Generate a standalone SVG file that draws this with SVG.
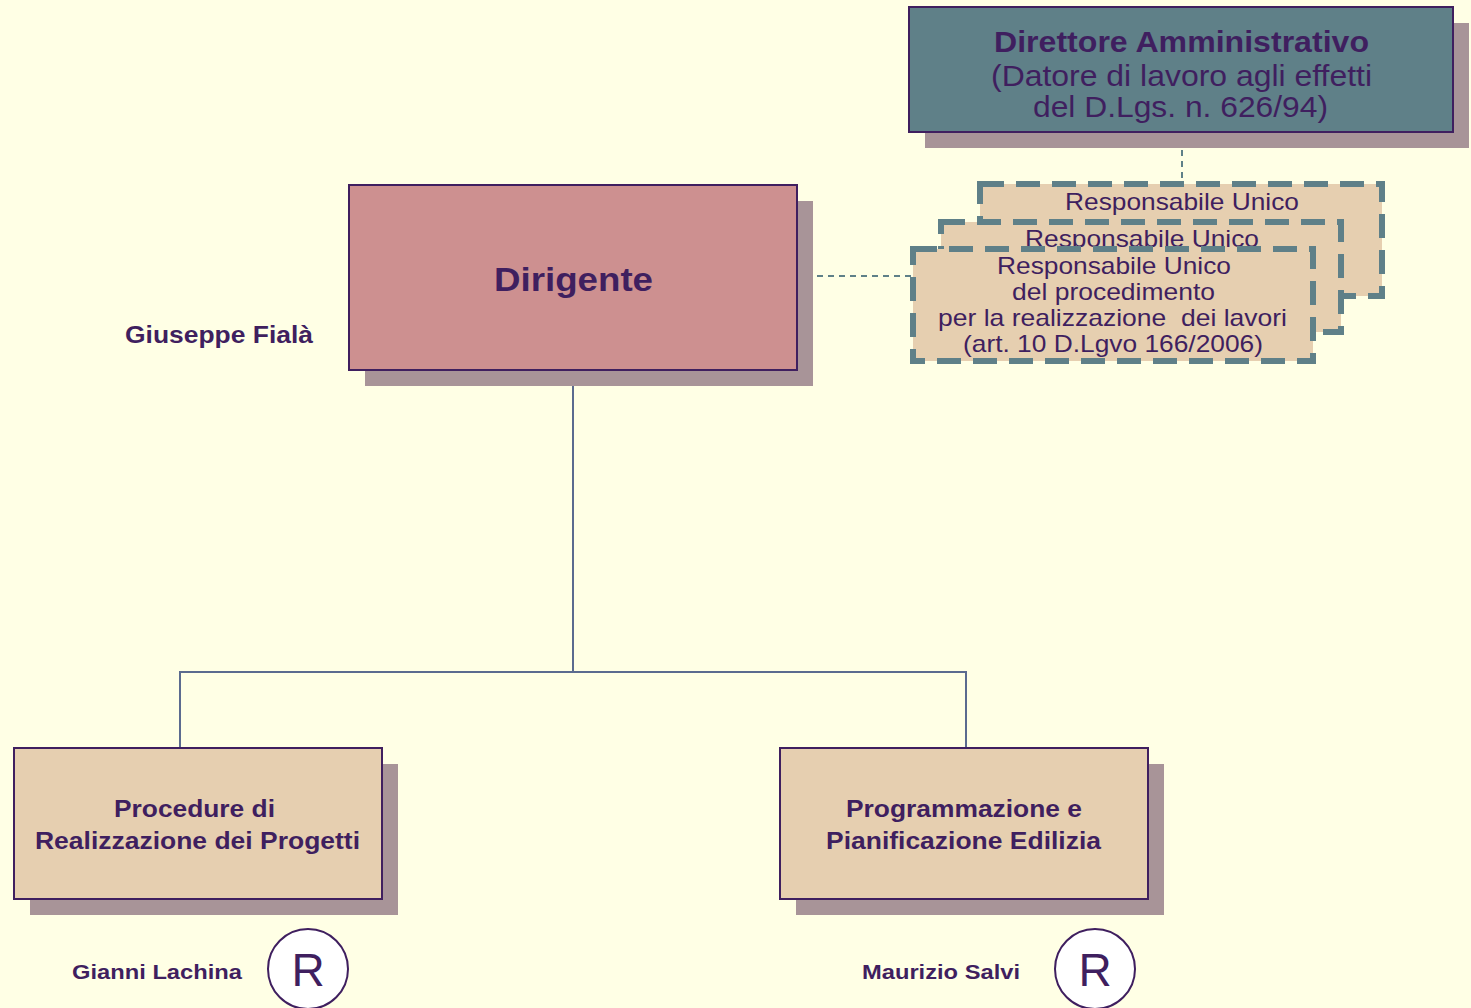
<svg xmlns="http://www.w3.org/2000/svg" width="1471" height="1008" viewBox="0 0 1471 1008">
<style>
.t{font-family:"Liberation Sans",Arial,sans-serif;fill:#3f1f5f;text-anchor:middle}
.b{font-weight:bold}
.sh{fill:#a89498}
.box{stroke:#3f1f5f;stroke-width:2}
.dash{fill:#e6cfb0;stroke:#5f8088;stroke-width:6;stroke-dasharray:24 12}
.con{fill:none;stroke:#5b6b8f;stroke-width:2}
.dcon{fill:none;stroke:#5f8088;stroke-width:2;stroke-dasharray:6 5}
</style>
<rect width="1471" height="1008" fill="#ffffe5"/>
<g id="connectors">
<path class="con" d="M573 370V672M180 748V672H966V748"/>
<path class="dcon" d="M817 276H912"/>
<path class="dcon" d="M1182 150V183"/>
</g>
<g id="direttore">
<rect class="sh" x="925" y="23" width="544" height="125"/>
<rect class="box" x="909" y="7" width="544" height="125" fill="#5f8088"/>
<text class="t b" x="1181.5" y="52" font-size="30" textLength="375" lengthAdjust="spacingAndGlyphs">Direttore Amministrativo</text>
<text class="t" x="1181.5" y="86" font-size="30" textLength="381" lengthAdjust="spacingAndGlyphs">(Datore di lavoro agli effetti</text>
<text class="t" x="1180.5" y="117" font-size="30" textLength="295" lengthAdjust="spacingAndGlyphs">del D.Lgs. n. 626/94)</text>
</g>
<g id="rup3">
<rect class="dash" x="980" y="184" width="402" height="112"/>
<text class="t" x="1182" y="210" font-size="24" textLength="234" lengthAdjust="spacingAndGlyphs">Responsabile Unico</text>
</g>
<g id="rup2">
<rect class="dash" x="941" y="222" width="400" height="110"/>
<text class="t" x="1142" y="247" font-size="24" textLength="234" lengthAdjust="spacingAndGlyphs">Responsabile Unico</text>
</g>
<g id="rup1">
<rect class="dash" x="913" y="249" width="400" height="112"/>
<text class="t" x="1114" y="274" font-size="24" textLength="234" lengthAdjust="spacingAndGlyphs">Responsabile Unico</text>
<text class="t" x="1113.5" y="300" font-size="24" textLength="203" lengthAdjust="spacingAndGlyphs">del procedimento</text>
<text class="t" x="1112.5" y="326" font-size="24" textLength="349" lengthAdjust="spacingAndGlyphs" xml:space="preserve">per la realizzazione  dei lavori</text>
<text class="t" x="1113" y="352" font-size="24" textLength="300" lengthAdjust="spacingAndGlyphs">(art. 10 D.Lgvo 166/2006)</text>
</g>
<g id="dirigente">
<rect class="sh" x="365" y="201" width="448" height="185"/>
<rect class="box" x="349" y="185" width="448" height="185" fill="#cd9090"/>
<text class="t b" x="573.5" y="291" font-size="34" textLength="159" lengthAdjust="spacingAndGlyphs">Dirigente</text>
<text class="t b" x="219" y="343" font-size="24" textLength="188" lengthAdjust="spacingAndGlyphs">Giuseppe Fialà</text>
</g>
<g id="procedure">
<rect class="sh" x="30" y="764" width="368" height="151"/>
<rect class="box" x="14" y="748" width="368" height="151" fill="#e6cfb0"/>
<text class="t b" x="194.5" y="817" font-size="24" textLength="161" lengthAdjust="spacingAndGlyphs">Procedure di</text>
<text class="t b" x="197.5" y="849" font-size="24" textLength="325" lengthAdjust="spacingAndGlyphs">Realizzazione dei Progetti</text>
<text class="t b" x="157" y="979" font-size="21" textLength="170" lengthAdjust="spacingAndGlyphs">Gianni Lachina</text>
<circle cx="308" cy="969" r="40" fill="#ffffff" stroke="#3f1f5f" stroke-width="2"/>
<text class="t" x="308" y="986" font-size="46">R</text>
</g>
<g id="programmazione">
<rect class="sh" x="796" y="764" width="368" height="151"/>
<rect class="box" x="780" y="748" width="368" height="151" fill="#e6cfb0"/>
<text class="t b" x="964" y="817" font-size="24" textLength="236" lengthAdjust="spacingAndGlyphs">Programmazione e</text>
<text class="t b" x="963.5" y="849" font-size="24" textLength="275" lengthAdjust="spacingAndGlyphs">Pianificazione Edilizia</text>
<text class="t b" x="941" y="979" font-size="21" textLength="158" lengthAdjust="spacingAndGlyphs">Maurizio Salvi</text>
<circle cx="1095" cy="969" r="40" fill="#ffffff" stroke="#3f1f5f" stroke-width="2"/>
<text class="t" x="1095" y="986" font-size="46">R</text>
</g>
</svg>
